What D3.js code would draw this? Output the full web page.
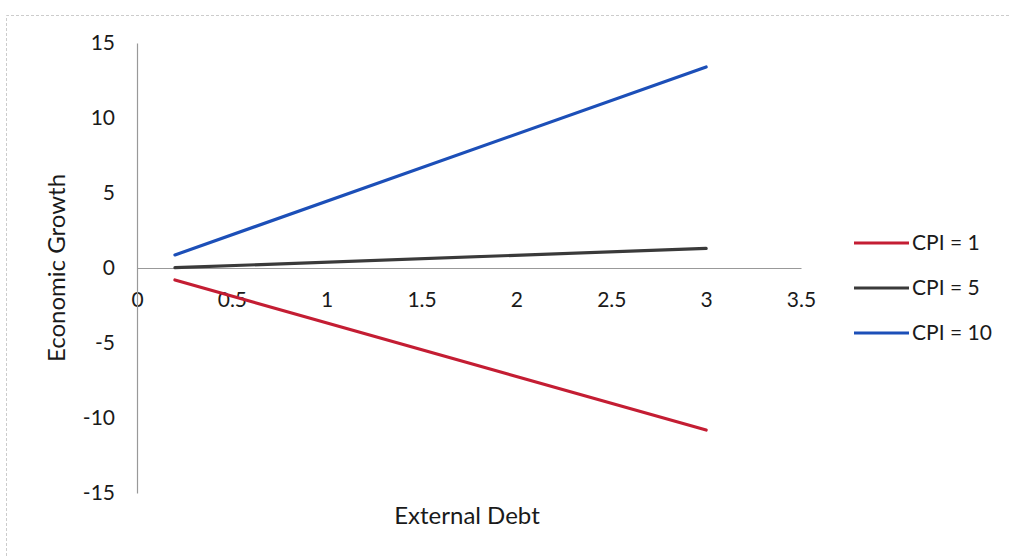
<!DOCTYPE html>
<html><head><meta charset="utf-8">
<script src="https://cdn.jsdelivr.net/npm/d3@7"></script>
<style>body{margin:0;background:#fff}svg{display:block}text{font-family:Lato,"Open Sans",sans-serif;fill:#1a1a1a}</style>
</head><body><svg id="c" width="1009" height="556"></svg>
<script>
const seriesNames = ["CPI = 1", "CPI = 5", "CPI = 10"];
const seriesColors = ["#c41d33", "#3a3a3a", "#1c4fb8"];
const debtX = [0.2, 3];
const cpi1 = [-0.8, -10.8];
const cpi5 = [0.02, 1.31];
const cpi10 = [0.87, 13.4];
const xTicks = [0, 0.5, 1, 1.5, 2, 2.5, 3, 3.5];
const yTicks = [-15, -10, -5, 0, 5, 10, 15];

const FONT = "Lato, 'Open Sans', sans-serif";
const fmt = d => String(d);
const svg = d3.select("#c");
const x = d3.scaleLinear().domain([0, 3.5]).range([137, 801]);
const y = d3.scaleLinear().domain([-15, 15]).range([493, 43]);

// frame
svg.append("path").attr("d","M6.5,556 V15.5 H1009").attr("fill","none").attr("stroke","#ccc").attr("stroke-width",1).attr("stroke-dasharray","3,2");

// axes
const xAxis = d3.axisBottom(x).tickValues(xTicks).tickSize(0).tickFormat(fmt);
const gx = svg.append("g").attr("transform",`translate(0,${y(0)})`).call(xAxis);
gx.attr("font-size",null).attr("font-family",null);
gx.select(".domain").attr("stroke","#999").attr("stroke-width",1.2);
gx.selectAll("text").attr("dy","0.35em").attr("y",32).style("font-size","21px").style("font-family",FONT).attr("fill","#1a1a1a");

const yAxis = d3.axisLeft(y).tickValues(yTicks).tickSize(0).tickFormat(fmt);
const gy = svg.append("g").attr("transform",`translate(${x(0)},0)`).call(yAxis);
gy.attr("font-size",null).attr("font-family",null);
gy.select(".domain").attr("stroke","#999").attr("stroke-width",1.2);
gy.selectAll("text").attr("x",-22).style("font-size","21px").style("font-family",FONT).attr("fill","#1a1a1a");

// lines
const data = [cpi1, cpi5, cpi10];
const line = d3.line().x((d,i)=>x(debtX[i])).y(d=>y(d));
data.forEach((s,k)=>{
  svg.append("path").datum(s).attr("d",line).attr("fill","none")
    .attr("stroke",seriesColors[k]).attr("stroke-width",3.2).attr("stroke-linecap","round");
});

// titles
svg.append("text").attr("x",467).attr("y",524).attr("text-anchor","middle").style("font-size","24px").text("External Debt");
svg.append("text").attr("transform","translate(65,268) rotate(-90)").attr("text-anchor","middle").style("font-size","24px").text("Economic Growth");

// legend
const lg = svg.append("g");
seriesNames.forEach((n,k)=>{
  const yy = 243 + k*45;
  lg.append("line").attr("x1",854).attr("x2",909).attr("y1",yy).attr("y2",yy).attr("stroke",seriesColors[k]).attr("stroke-width",3.2);
  lg.append("text").attr("x",912).attr("y",yy).attr("dy","0.35em").style("font-size","21px").text(n);
});
</script></body></html>
